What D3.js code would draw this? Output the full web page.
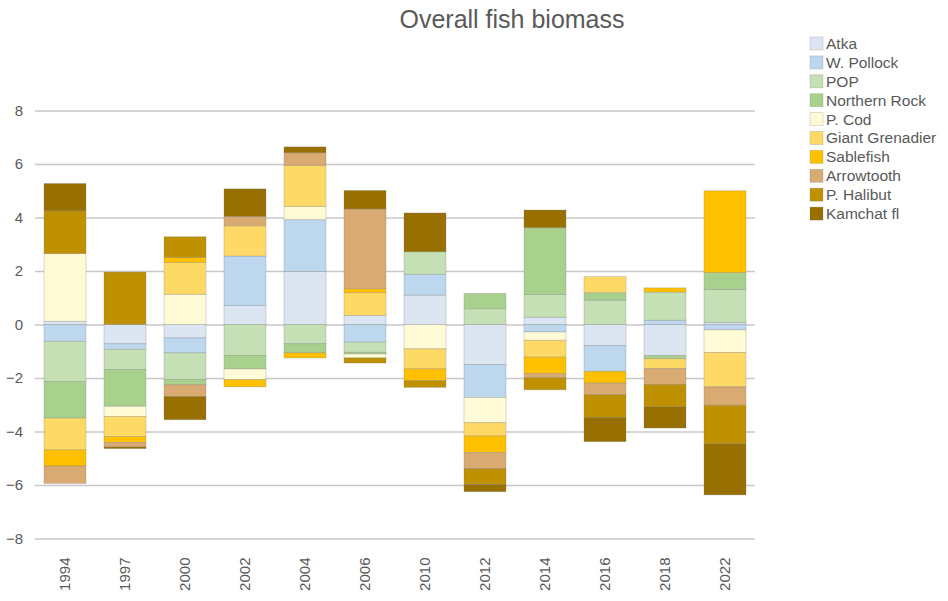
<!DOCTYPE html>
<html>
<head>
<meta charset="utf-8">
<script src="https://cdn.jsdelivr.net/npm/d3@7"></script>
<style>
  body { margin: 0; background: #fff; }
  text { font-family: "Liberation Sans", Arial, sans-serif; }
</style>
</head>
<body>
<svg width="948" height="601"></svg>
<script>
// data
var years = ["1994","1997","2000","2002","2004","2006","2010","2012","2014","2016","2018","2022"];
var species = ["Atka","W. Pollock","POP","Northern Rock","P. Cod","Giant Grenadier","Sablefish","Arrowtooth","P. Halibut","Kamchat fl"];
var colors = ["#dce6f2","#bdd7ee","#c5e0b4","#a9d18e","#fffbd6","#ffd966","#ffc000","#d9aa72","#bf9000","#977000"];

var atka       = [0.12, -0.72, -0.50, 0.71, 1.98, 0.34, 1.10, -1.50, 0.27, -0.79, -1.16, 0.08];
var wPollock   = [-0.63, -0.21, -0.56, 1.85, 1.94, -0.66, 0.78, -1.23, -0.28, -0.96, 0.16, -0.20];
var pop        = [-1.50, -0.75, -1.00, -1.16, -0.72, -0.38, 0.84, 0.59, 0.85, 0.91, 1.05, 1.23];
var northRock  = [-1.37, -1.38, -0.19, -0.50, -0.34, -0.06, 0, 0.57, 2.50, 0.28, -0.12, 0.63];
var pCod       = [2.53, -0.38, 1.13, -0.40, 0.49, -0.15, -0.91, -0.94, -0.31, 0, 0, -0.85];
var grenadier  = [-1.19, -0.75, 1.19, 1.13, 1.54, 0.85, -0.75, -0.50, -0.63, 0.60, -0.36, -1.28];
var sablefish  = [-0.60, -0.22, 0.19, -0.27, -0.19, 0.15, -0.44, -0.62, -0.62, -0.44, 0.16, 3.06];
var arrowtooth = [-0.65, -0.17, -0.44, 0.35, 0.47, 2.98, 0, -0.60, -0.15, -0.44, -0.60, -0.69];
var pHalibut   = [1.60, 1.96, 0.77, 0, 0, -0.19, -0.25, -0.59, -0.45, -0.84, -0.84, -1.44];
var kamchat    = [1.02, -0.06, -0.87, 1.03, 0.22, 0.69, 1.45, -0.27, 0.66, -0.91, -0.79, -1.91];

var yTicks = [-8,-6,-4,-2,0,2,4,6,8];

var series = [atka, wPollock, pop, northRock, pCod, grenadier, sablefish, arrowtooth, pHalibut, kamchat];

// build rows for d3.stack
var rows = years.map(function(y, i) {
  var r = { year: y };
  species.forEach(function(s, j) { r[s] = series[j][i]; });
  return r;
});

var margins = { top: 110.5, left: 35, right: 193, bottom: 62.5 };
var width = 948 - margins.left - margins.right;
var height = 601 - margins.top - margins.bottom;

var svg = d3.select("svg");

var xScale = d3.scaleBand()
  .domain(years)
  .range([0, width])
  .paddingInner(0.3)
  .paddingOuter(0.15);

var yScale = d3.scaleLinear()
  .domain([-8, 8])
  .range([height, 0]);

var color = d3.scaleOrdinal().domain(species).range(colors);

var plotLand = svg.append("g")
  .attr("transform", "translate(" + margins.left + "," + margins.top + ")");

// gridlines + y labels
var yAxis = plotLand.append("g")
  .call(d3.axisLeft(yScale).tickValues(yTicks).tickSize(-width).tickPadding(12).tickFormat(d3.format("d")));
yAxis.select(".domain").remove();
yAxis.selectAll("line").attr("stroke", "#c8c8c8").attr("stroke-width", 1.6);
yAxis.selectAll("text").attr("fill", "#595959").attr("font-size", 15);

// x labels
var xAxis = plotLand.append("g")
  .attr("transform", "translate(0," + height + ")")
  .call(d3.axisBottom(xScale).tickSize(0));
xAxis.select(".domain").remove();
xAxis.selectAll("text")
  .attr("fill", "#595959")
  .attr("font-size", 15)
  .attr("transform", "rotate(-90)")
  .attr("text-anchor", "end")
  .attr("x", -19)
  .attr("y", 0)
  .attr("dy", "0.35em");

// stacked bars
var stack = d3.stack().keys(species).offset(d3.stackOffsetDiverging);
var layers = stack(rows);

plotLand.selectAll(".layer")
  .data(layers)
  .enter()
  .append("g")
  .attr("class", "layer")
  .attr("fill", function(d) { return color(d.key); })
  .selectAll("rect")
  .data(function(d) { return d.filter(function(p) { return p[1] - p[0] !== 0; }); })
  .enter()
  .append("rect")
  .attr("x", function(d) { return xScale(d.data.year); })
  .attr("width", xScale.bandwidth())
  .attr("y", function(d) { return yScale(d[1]); })
  .attr("height", function(d) { return yScale(d[0]) - yScale(d[1]); })
  .attr("stroke", "rgba(120,120,120,0.35)")
  .attr("stroke-width", 0.8);

// title
svg.append("text")
  .attr("x", 512)
  .attr("y", 28)
  .attr("text-anchor", "middle")
  .attr("font-size", 25)
  .attr("fill", "#595959")
  .text("Overall fish biomass");

// legend
var legend = svg.append("g").attr("transform", "translate(810,37)");
var item = legend.selectAll("g")
  .data(species)
  .enter()
  .append("g")
  .attr("transform", function(d, i) { return "translate(0," + (i * 18.9) + ")"; });
item.append("rect")
  .attr("width", 13)
  .attr("height", 13)
  .attr("fill", function(d) { return color(d); })
  .attr("stroke", "rgba(120,120,120,0.3)")
  .attr("stroke-width", 0.8);
item.append("text")
  .attr("x", 16)
  .attr("y", 6.5)
  .attr("dy", "0.35em")
  .attr("font-size", 15.5)
  .attr("fill", "#595959")
  .text(function(d) { return d; });
</script>
</body>
</html>
